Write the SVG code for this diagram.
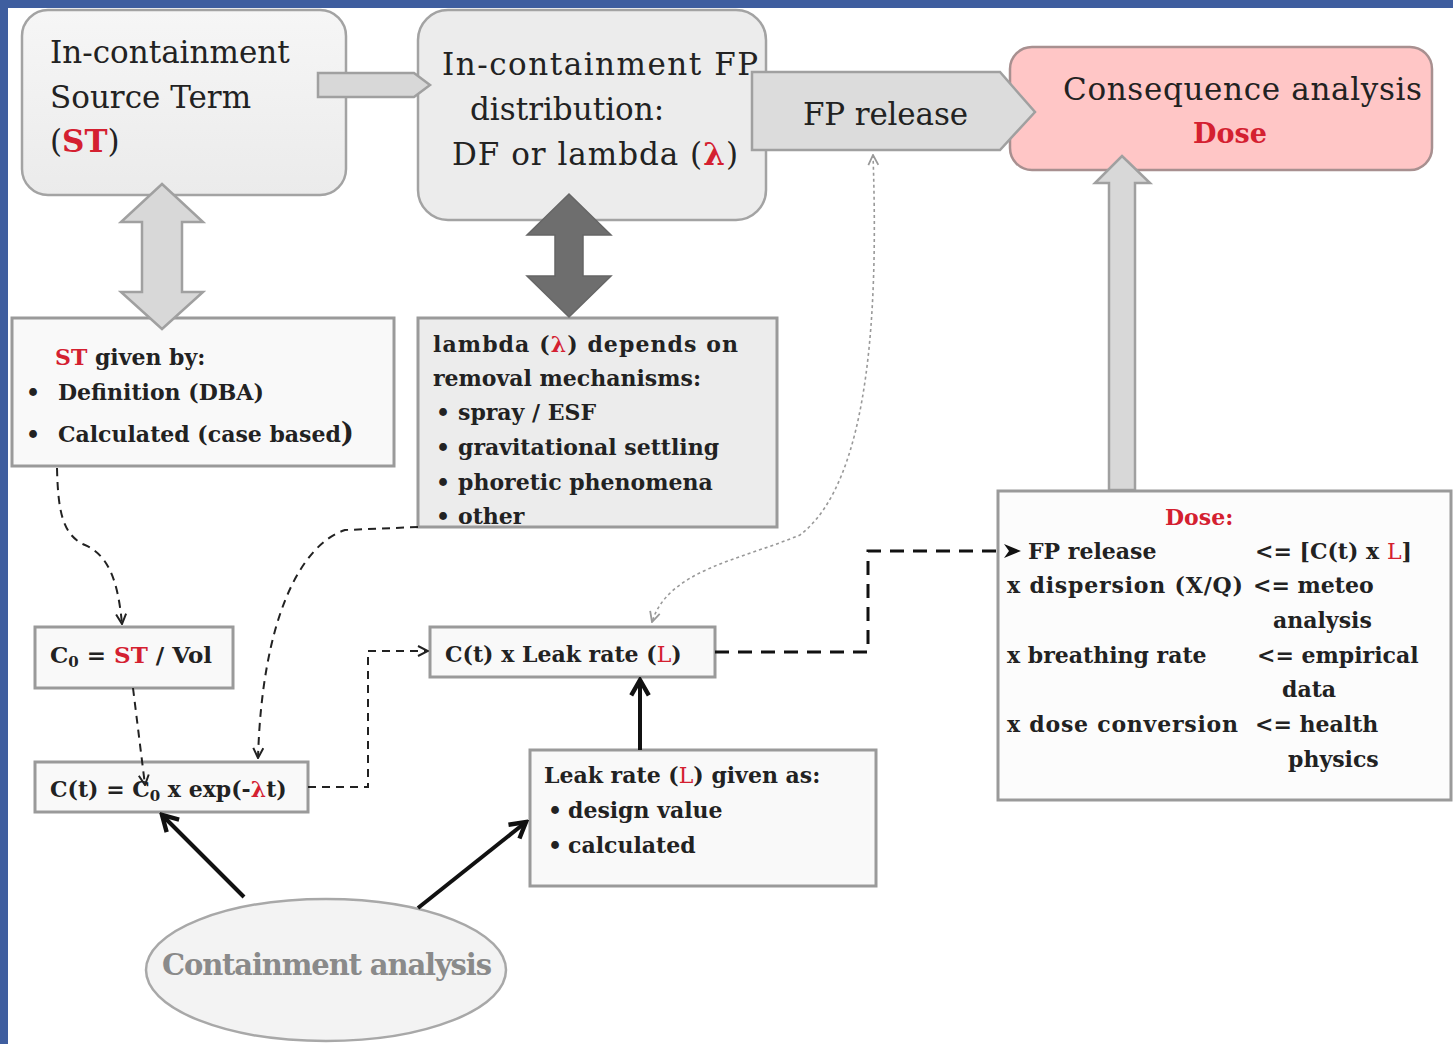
<svg xmlns="http://www.w3.org/2000/svg" width="1453" height="1044" viewBox="0 0 1453 1044">
<style>
.big{font-family:"DejaVu Serif","Liberation Serif",serif;font-size:31px;fill:#222}
.b{font-family:"DejaVu Serif","Liberation Serif",serif;font-size:22px;font-weight:bold;fill:#222}
.red{fill:#d42030}
.rbox{fill:#f1f1f1;stroke:#a3a3a3;stroke-width:2.5}
.box{fill:#f9f9f9;stroke:#9a9a9a;stroke-width:3}
.gbox{fill:#ececec;stroke:#9a9a9a;stroke-width:3}
.garrow{fill:#d8d8d8;stroke:#a0a0a0;stroke-width:2.5;stroke-linejoin:miter}
.dash{fill:none;stroke:#222;stroke-width:2;stroke-dasharray:8 6}
.solid{fill:none;stroke:#111;stroke-width:4}
</style>
<defs>
<marker id="openV" viewBox="0 0 12 12" refX="11" refY="6" markerWidth="12" markerHeight="12" orient="auto" markerUnits="userSpaceOnUse"><path d="M1,1 L11,6 L1,11" fill="none" stroke="#222" stroke-width="2"/></marker>
<marker id="openG" viewBox="0 0 12 12" refX="11" refY="6" markerWidth="12" markerHeight="12" orient="auto-start-reverse" markerUnits="userSpaceOnUse"><path d="M1,1 L11,6 L1,11" fill="none" stroke="#999" stroke-width="1.8"/></marker>
<marker id="openBig" viewBox="0 0 20 20" refX="17" refY="10" markerWidth="22" markerHeight="22" orient="auto" markerUnits="userSpaceOnUse"><path d="M3,2 L17,10 L3,18" fill="none" stroke="#111" stroke-width="4"/></marker>
<marker id="fillV" viewBox="0 0 16 16" refX="14" refY="8" markerWidth="18" markerHeight="18" orient="auto" markerUnits="userSpaceOnUse"><path d="M1,1 L15,8 L1,15 L6,8 Z" fill="#111"/></marker>
<linearGradient id="g1" x1="0" y1="0" x2="0" y2="1"><stop offset="0" stop-color="#f6f6f6"/><stop offset="1" stop-color="#ebebeb"/></linearGradient>
</defs>
<rect x="0" y="0" width="1453" height="1044" fill="#ffffff"/>
<rect x="0" y="0" width="1453" height="8" fill="#3f5e9f"/>
<rect x="0" y="0" width="8" height="1044" fill="#3f5e9f"/>

<g id="node-source-term">
<rect x="22" y="10" width="324" height="185" rx="26" class="rbox" style="fill:url(#g1)"/>
<text class="big" x="50" y="63">In-containment</text>
<text class="big" x="50" y="108">Source Term</text>
<text class="big" x="50" y="152">(<tspan class="red" font-weight="bold">ST</tspan>)</text>
</g>

<g id="node-fp-distribution">
<rect x="418" y="10" width="348" height="210" rx="30" class="rbox" style="fill:#ececec"/>
<text class="big" x="442" y="75" textLength="316">In-containment  FP</text>
<text class="big" x="470" y="120">distribution:</text>
<text class="big" x="452" y="165" textLength="286">DF or  lambda (<tspan class="red" font-weight="bold">λ</tspan>)</text>
</g>

<g id="node-consequence">
<rect x="1010" y="47" width="422" height="123" rx="22" fill="#ffc6c6" stroke="#a89090" stroke-width="2.5"/>
<text class="big" x="1063" y="100" textLength="359">Consequence analysis</text>
<text class="b red" x="1230" y="143" style="font-size:27px" text-anchor="middle">Dose</text>
</g>

<g id="node-st-given">
<rect x="12" y="318" width="382" height="148" class="box"/>
<text class="b" x="55" y="365"><tspan class="red">ST</tspan> given by:</text>
<text class="b" x="26" y="400">•</text>
<text class="b" x="58" y="400">Definition (DBA)</text>
<text class="b" x="26" y="442">•</text>
<text class="b" x="58" y="442">Calculated (case based<tspan font-size="28">)</tspan></text>
</g>

<g id="node-lambda">
<rect x="418" y="318" width="359" height="209" class="gbox"/>
<text class="b" x="433" y="352" textLength="305">lambda (<tspan class="red">λ</tspan>)  depends on</text>
<text class="b" x="433" y="386">removal mechanisms:</text>
<text class="b" x="436" y="420">•</text><text class="b" x="458" y="420">spray / ESF</text>
<text class="b" x="436" y="455">•</text><text class="b" x="458" y="455">gravitational settling</text>
<text class="b" x="436" y="490">•</text><text class="b" x="458" y="490">phoretic  phenomena</text>
<text class="b" x="436" y="524">•</text><text class="b" x="458" y="524">other</text>
</g>

<g id="node-c0">
<rect x="35" y="627" width="198" height="61" class="box"/>
<text class="b" x="50" y="663" style="font-size:23px">C<tspan font-size="15" dy="4">0</tspan><tspan dy="-4"> = </tspan><tspan class="red">ST</tspan> / Vol</text>
</g>

<g id="node-ct">
<rect x="35" y="762" width="273" height="50" class="box"/>
<text class="b" x="50" y="797">C(t) = C<tspan font-size="15" dy="4">0</tspan><tspan dy="-4"> x exp(-</tspan><tspan class="red">λ</tspan>t)</text>
</g>

<g id="node-leak-product">
<rect x="430" y="627" width="285" height="50" class="box"/>
<text class="b" x="445" y="662">C(t) x Leak rate (<tspan class="red" font-weight="normal">L</tspan>)</text>
</g>

<g id="node-leak-given">
<rect x="530" y="750" width="346" height="136" class="box"/>
<text class="b" x="544" y="783">Leak rate (<tspan class="red" font-weight="normal">L</tspan>) given  as:</text>
<text class="b" x="548" y="818">•</text><text class="b" x="568" y="818">design value</text>
<text class="b" x="548" y="853">•</text><text class="b" x="568" y="853">calculated</text>
</g>

<g id="node-containment-analysis">
<ellipse cx="326" cy="970" rx="180" ry="71" fill="#f3f3f3" stroke="#a8a8a8" stroke-width="2.5"/>
<text class="b" x="162" y="975" style="font-size:29px;fill:#8a8a8a" textLength="330">Containment analysis</text>
</g>

<g id="connectors">
<polygon class="garrow" points="318,73 414,73 430,85 414,97 318,97"/>
<polygon points="752,72 1000,72 1035,112 1000,150 752,150" fill="#dcdcdc" stroke="#a0a0a0" stroke-width="2.5"/>
<text class="big" x="803" y="125" textLength="165">FP release</text>
<polygon class="garrow" points="162,184 203,222 182,222 182,292 203,292 162,329 121,292 142,292 142,222 121,222"/>
<polygon points="569,194 611,235 583,235 583,276 611,276 569,317 527,276 555,276 555,235 527,235" fill="#6e6e6e" stroke="#666" stroke-width="1.5"/>
<polygon class="garrow" points="1122,156 1150,183 1135,183 1135,490 1109,490 1109,183 1095,183"/>
<path class="dash" d="M57,468 C58,510 62,535 85,545 C108,555 118,580 122,624" marker-end="url(#openV)"/>
<path class="dash" d="M418,527 L345,530 C300,545 262,620 258,758" marker-end="url(#openV)"/>
<path class="dash" d="M133,688 L145,785" marker-end="url(#openV)"/>
<path class="dash" d="M308,787 L368,787 L368,651 L428,651" marker-end="url(#openV)"/>
<path d="M715,652 L868,652 L868,551 L1020,551" fill="none" stroke="#111" stroke-width="3" stroke-dasharray="14 9" marker-end="url(#fillV)"/>
<path d="M873,155 C878,300 872,480 800,535 C740,560 668,570 652,622" fill="none" stroke="#999" stroke-width="1.6" stroke-dasharray="3 3" marker-start="url(#openG)" marker-end="url(#openG)"/>
<path class="solid" d="M244,897 L162,815" marker-end="url(#openBig)"/>
<path class="solid" d="M418,908 L526,822" marker-end="url(#openBig)"/>
<path class="solid" d="M640,750 L640,680" marker-end="url(#openBig)"/>
</g>

<g id="node-dose">
<rect x="998" y="491" width="453" height="309" class="box" style="fill:#fcfcfc"/>
<text class="b red" x="1165" y="525">Dose:</text>
<text class="b" x="1028" y="559">FP release</text>
<text class="b" x="1255" y="559">&lt;= [C(t) x <tspan class="red" font-weight="normal">L</tspan>]</text>
<text class="b" x="1007" y="593" textLength="236">x dispersion (X/Q)</text>
<text class="b" x="1253" y="593">&lt;= meteo</text>
<text class="b" x="1273" y="628">analysis</text>
<text class="b" x="1007" y="663">x breathing rate</text>
<text class="b" x="1257" y="663">&lt;= empirical</text>
<text class="b" x="1282" y="697">data</text>
<text class="b" x="1007" y="732" textLength="231">x dose conversion</text>
<text class="b" x="1255" y="732">&lt;= health</text>
<text class="b" x="1288" y="767">physics</text>
<path d="M1004,544 L1021,551 L1004,558 L1009,551 Z" fill="#111"/>
</g>
</svg>
